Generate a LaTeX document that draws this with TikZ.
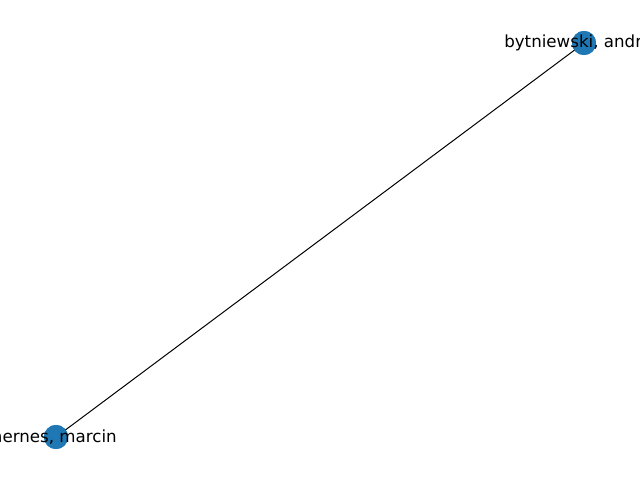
\documentclass[tikz,border=0pt]{standalone}
\usepackage{fontspec}
\setmainfont{DejaVu Sans}
\definecolor{nodeblue}{HTML}{1F77B4}
\tikzset{
  author/.style={circle,fill=nodeblue,inner sep=0pt,minimum size=17.3pt},
  namelabel/.style={font=\fontsize{12}{14}\selectfont,inner sep=0pt},
}
\begin{document}
\begin{tikzpicture}[x=0.72pt,y=-0.72pt]
\useasboundingbox (0,0) rectangle (640,480);
\clip (0,0) rectangle (640,480);
\fill[white] (0,0) rectangle (640,480);

\node[author] (bytn) at (584,43) {};
\node[author] (marc) at (56,437) {};
\draw[black,line width=0.72pt] (marc.center) -- (bytn.center);
\node[author] at (bytn) {};
\node[author] at (marc) {};

\node[namelabel,anchor=west] (bytnlabel) at (504,43) {bytniewski, andr};
\node[namelabel,anchor=east] (marclabel) at (117,437) {hernes, marcin};

\end{tikzpicture}
\end{document}
